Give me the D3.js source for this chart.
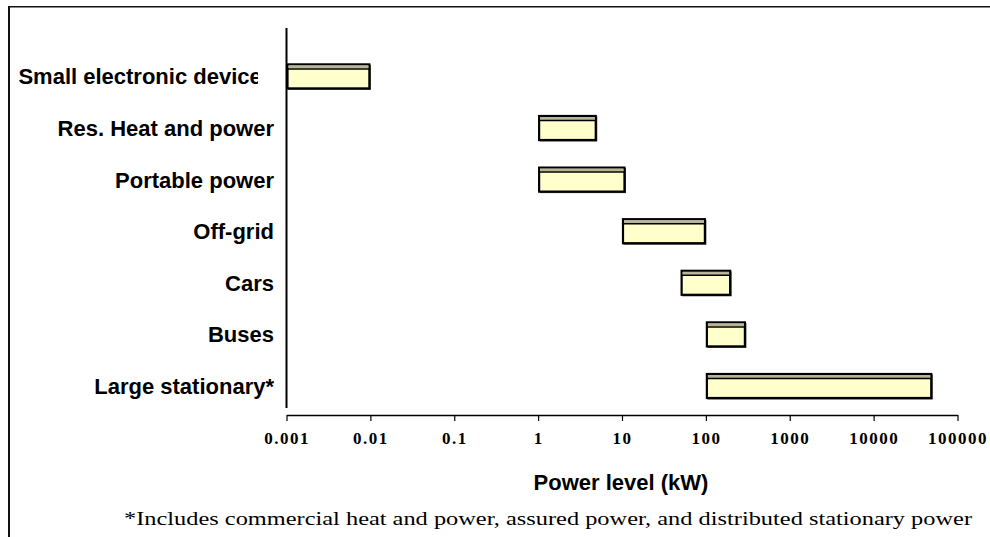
<!DOCTYPE html>
<html>
<head>
<meta charset="utf-8">
<script src="https://cdn.jsdelivr.net/npm/d3@7"></script>
<style>
  body { margin: 0; background: #fff; }
  svg { display: block; }
</style>
</head>
<body>
<div id="chart"></div>
<script>
// chart data (kW)
const categories = ["Small electronic devices", "Res. Heat and power", "Portable power",
                    "Off-grid", "Cars", "Buses", "Large stationary*"];
const lowValues  = [0.001, 1, 1, 10, 50, 100, 100];
const highValues = [0.01, 5, 11, 100, 200, 300, 50000];
const tickValues = [0.001, 0.01, 0.1, 1, 10, 100, 1000, 10000, 100000];
const tickLabels = ["0.001", "0.01", "0.1", "1", "10", "100", "1000", "10000", "100000"];
const xTitle = "Power level (kW)";
const footnote = "*Includes commercial heat and power, assured power, and distributed stationary power";

const width = 990, height = 537;
const plot = {left: 286.5, right: 957.5, top: 28, axisY: 415};
const barH = 26;

const svg = d3.select("#chart").append("svg")
    .attr("width", width)
    .attr("height", height);

// outer frame (only top and left edges are visible)
svg.append("line")
    .attr("x1", 8).attr("x2", width).attr("y1", 6.75).attr("y2", 6.75)
    .attr("stroke", "#111").attr("stroke-width", 1.5);
svg.append("line")
    .attr("x1", 9).attr("x2", 9).attr("y1", 6).attr("y2", height)
    .attr("stroke", "#111").attr("stroke-width", 2);

const xScale = d3.scaleLog()
    .domain([tickValues[0], tickValues[tickValues.length - 1]])
    .range([plot.left, plot.right]);

const yScale = d3.scalePoint()
    .domain(categories)
    .range([50.6, 411.8])
    .padding(0.5);

// x axis
const xAxis = svg.append("g")
    .attr("class", "xAxisG")
    .attr("transform", `translate(0,${plot.axisY})`)
    .call(d3.axisBottom(xScale)
        .tickValues(tickValues)
        .tickFormat((d, i) => tickLabels[i])
        .tickSize(6)
        .tickSizeOuter(0)
        .tickPadding(11));
xAxis.select(".domain").attr("stroke", "#000").attr("stroke-width", 1.5);
xAxis.selectAll(".tick line").attr("stroke", "#000").attr("stroke-width", 1.2);
xAxis.selectAll(".tick text")
    .attr("fill", "#000")
    .attr("font-family", "'Liberation Serif', 'Times New Roman', serif")
    .attr("font-weight", "bold")
    .attr("font-size", "17px")
    .attr("letter-spacing", "1.5px");

// y axis line
svg.append("line")
    .attr("x1", plot.left).attr("x2", plot.left)
    .attr("y1", plot.top).attr("y2", 408)
    .attr("stroke", "#000").attr("stroke-width", 2);

// category labels, the first one is cut off as in the source
svg.append("clipPath").attr("id", "labelClip")
  .append("rect").attr("x", 0).attr("y", 0).attr("width", 258).attr("height", height);

svg.append("g")
    .attr("class", "yLabels")
  .selectAll("text")
  .data(categories)
  .join("text")
    .attr("x", 274)
    .attr("y", d => yScale(d))
    .attr("dy", "0.36em")
    .attr("text-anchor", "end")
    .attr("clip-path", (d, i) => i === 0 ? "url(#labelClip)" : null)
    .attr("font-family", "'Liberation Sans', Arial, sans-serif")
    .attr("font-weight", "bold")
    .attr("font-size", "22px")
    .attr("fill", "#000")
    .text(d => d);

// range bars
const bars = categories.map((c, i) => ({cat: c, lo: lowValues[i], hi: highValues[i]}));

const barG = svg.selectAll(".barG")
  .data(bars)
  .join("g")
    .attr("class", "barG")
    .attr("transform", d => `translate(0,${yScale(d.cat) - barH / 2})`);

// thin shadow on right and bottom
barG.append("rect")
    .attr("x", d => xScale(d.lo) + 1.5)
    .attr("y", 1.5)
    .attr("width", d => xScale(d.hi) - xScale(d.lo) - 1)
    .attr("height", barH - 1)
    .attr("fill", "#3a3a3a");

barG.append("rect")
    .attr("class", "barBody")
    .attr("x", d => xScale(d.lo) + 1)
    .attr("y", 1)
    .attr("width", d => xScale(d.hi) - xScale(d.lo) - 2)
    .attr("height", barH - 2)
    .attr("fill", "#ffffcc")
    .attr("stroke", "#000")
    .attr("stroke-width", 2.2);

// top face strip
barG.append("rect")
    .attr("x", d => xScale(d.lo) + 2)
    .attr("y", 2)
    .attr("width", d => xScale(d.hi) - xScale(d.lo) - 4)
    .attr("height", 3)
    .attr("fill", "#b7b498");

barG.append("line")
    .attr("x1", d => xScale(d.lo) + 1)
    .attr("x2", d => xScale(d.hi) - 1)
    .attr("y1", 5.5)
    .attr("y2", 5.5)
    .attr("stroke", "#000")
    .attr("stroke-width", 1.5);

// x axis title
svg.append("text")
    .attr("x", 621)
    .attr("y", 490)
    .attr("text-anchor", "middle")
    .attr("font-family", "'Liberation Sans', Arial, sans-serif")
    .attr("font-weight", "bold")
    .attr("font-size", "22px")
    .attr("fill", "#000")
    .text(xTitle);

// footnote
svg.append("text")
    .attr("x", 124)
    .attr("y", 525)
    .attr("font-family", "'Liberation Serif', 'Times New Roman', serif")
    .attr("font-size", "19px")
    .attr("textLength", 848)
    .attr("lengthAdjust", "spacingAndGlyphs")
    .attr("fill", "#000")
    .text(footnote);
</script>
</body>
</html>
